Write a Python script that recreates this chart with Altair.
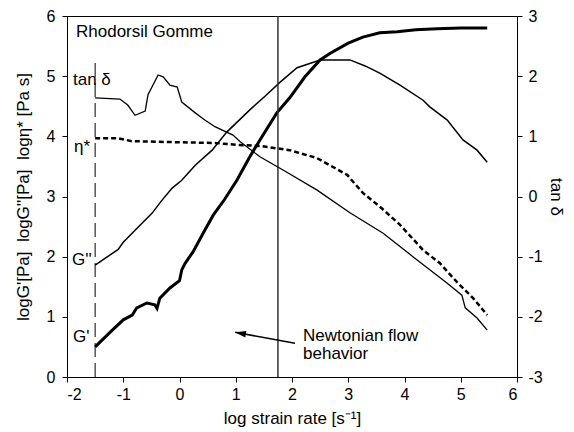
import altair as alt
import pandas as pd

# ---- data ----
gp_x = [-1.5, -1.25, -1.0, -0.84, -0.76, -0.58, -0.44, -0.4, -0.35, -0.17, 0.0, 0.04, 0.1, 0.24, 0.42,
        0.6, 0.8, 1.02, 1.25, 1.43, 1.73, 1.96, 2.23, 2.5, 2.68, 3.0, 3.26, 3.56, 3.87, 4.2, 4.58, 5.0, 5.47]
gp_y = [0.5, 0.73, 0.95, 1.03, 1.15, 1.23, 1.2, 1.14, 1.31, 1.48, 1.6, 1.78, 1.89, 2.08, 2.39,
        2.69, 2.95, 3.27, 3.66, 3.94, 4.39, 4.64, 4.99, 5.27, 5.38, 5.55, 5.65, 5.72, 5.74, 5.77, 5.79, 5.8, 5.8]

gpp_x = [-1.5, -1.09, -1.0, -0.79, -0.49, -0.31, -0.13, 0.04, 0.28, 0.58, 0.84, 1.25, 1.5, 1.79, 2.09,
         2.5, 3.03, 3.3, 3.56, 3.92, 4.33, 4.45, 4.76, 5.04, 5.29, 5.47]
gpp_y = [1.86, 2.12, 2.24, 2.44, 2.72, 2.94, 3.14, 3.27, 3.52, 3.77, 4.07, 4.44, 4.65, 4.9, 5.14,
         5.27, 5.27, 5.17, 5.05, 4.85, 4.6, 4.49, 4.27, 3.94, 3.77, 3.57]

eta_x = [-1.5, -1.1, -0.85, 0.04, 0.63, 1.0, 1.43, 1.96, 2.44, 2.98, 3.26, 3.6, 3.92, 4.33, 4.63, 4.93, 5.22, 5.47]
eta_y = [3.97, 3.97, 3.92, 3.9, 3.89, 3.86, 3.84, 3.77, 3.64, 3.36, 3.06, 2.8, 2.53, 2.11, 1.89, 1.58, 1.31, 1.03]

tan_x = [-1.5, -1.06, -0.92, -0.79, -0.61, -0.56, -0.38, -0.29, -0.17, -0.04, 0.04, 0.28, 0.45, 0.63,
         0.95, 1.08, 1.43, 1.84, 2.44, 3.03, 3.62, 4.15, 4.76, 5.02, 5.08, 5.29, 5.47]
tan_y = [1.64, 1.62, 1.52, 1.35, 1.42, 1.69, 2.02, 1.99, 1.85, 1.82, 1.57, 1.39, 1.27, 1.16,
         1.02, 0.91, 0.66, 0.44, 0.11, -0.27, -0.61, -1.0, -1.44, -1.64, -1.85, -2.02, -2.22]

x_ticks = [-2, -1, 0, 1, 2, 3, 4, 5, 6]
y_ticks = [0, 1, 2, 3, 4, 5, 6]
tan_ticks = [-3, -2, -1, 0, 1, 2, 3]

label_text = ["Rhodorsil Gomme", "tan δ", "η*", "G''", "G'", "Newtonian flow", "behavior"]
label_x = [-1.84, -1.893, -1.875, -1.91, -1.893, 2.196, 2.196]
label_y = [5.73, 4.94, 3.82, 1.94, 0.66, 0.68, 0.39]

newtonian_rate = 1.75
start_rate = -1.5

FONT = "Liberation Sans"
HYPHEN = "replace(datum.label, '\u2212', '-')"

xenc = alt.X("x:Q", scale=alt.Scale(domain=[-2, 6], nice=False, zero=False),
             axis=alt.Axis(values=x_ticks, title="log strain rate [s⁻¹]", titlePadding=8,
                           labelPadding=4, labelExpr=HYPHEN))
yL = alt.Y("y:Q", scale=alt.Scale(domain=[0, 6], nice=False, zero=False),
           axis=alt.Axis(values=y_ticks, orient="left",
                         title="logG'[Pa]\u00a0\u00a0logG''[Pa]\u00a0\u00a0logη* [Pa s]",
                         labelPadding=7, titlePadding=14))


def frame(x, y):
    return pd.DataFrame({"x": x, "y": y})


gp = alt.Chart(frame(gp_x, gp_y)).mark_line(color="black", strokeWidth=3).encode(x=xenc, y=yL)
gpp = alt.Chart(frame(gpp_x, gpp_y)).mark_line(color="black", strokeWidth=1.5).encode(x=xenc, y=yL)
eta = alt.Chart(frame(eta_x, eta_y)).mark_line(color="black", strokeWidth=2.5,
                                               strokeDash=[5, 3]).encode(x=xenc, y=yL)

vline = alt.Chart(pd.DataFrame({"x": [newtonian_rate], "y": [0], "y2": [6]})).mark_rule(
    color="#333", strokeWidth=1.5).encode(x=xenc, y=yL, y2="y2:Q")
dline = alt.Chart(pd.DataFrame({"x": [start_rate], "y": [0], "y2": [5.23]})).mark_rule(
    color="black", strokeWidth=1, strokeDash=[14, 6]).encode(x=xenc, y=yL, y2="y2:Q")

texts = alt.Chart(pd.DataFrame({"x": label_x, "y": label_y, "t": label_text})).mark_text(
    align="left", baseline="middle", fontSize=17, font=FONT, color="black").encode(
    x=xenc, y=yL, text="t:N")

arrow = alt.Chart(pd.DataFrame({"x": [2.053], "y": [0.56], "x2": [0.99], "y2": [0.743]})).mark_rule(
    color="black", strokeWidth=1.5).encode(x=xenc, y=yL, x2="x2:Q", y2="y2:Q")
head = alt.Chart(pd.DataFrame({"x": [0.987], "y": [0.743]})).mark_point(
    shape="M0,0L1,-0.3L1,0.3Z", size=480, filled=True, color="black", opacity=1,
    angle=10, strokeWidth=0).encode(x=xenc, y=yL)

left = alt.layer(gp, gpp, eta, vline, dline, texts, arrow, head)

tan = alt.Chart(frame(tan_x, tan_y)).mark_line(color="black", strokeWidth=1.3).encode(
    x=xenc,
    y=alt.Y("y:Q", scale=alt.Scale(domain=[-3, 3], nice=False, zero=False),
            axis=alt.Axis(values=tan_ticks, orient="right", title="tan δ",
                          labelPadding=6, titlePadding=4, labelExpr=HYPHEN)))

chart = alt.layer(left, tan).resolve_scale(y="independent").properties(
    width=450, height=361,
    autosize=alt.AutoSizeParams(type="none"),
    padding={"left": 67, "top": 16, "right": 57, "bottom": 55},
).configure_axis(
    labelFont=FONT, labelFontSize=16, labelColor="black",
    titleFont=FONT, titleFontSize=17, titleFontWeight="normal", titleColor="black",
    tickColor="black", domainColor="black", tickSize=5, grid=False,
).configure_view(stroke="black", strokeWidth=1)

chart.save("out.html", embed_options={"renderer": "svg", "actions": False})
